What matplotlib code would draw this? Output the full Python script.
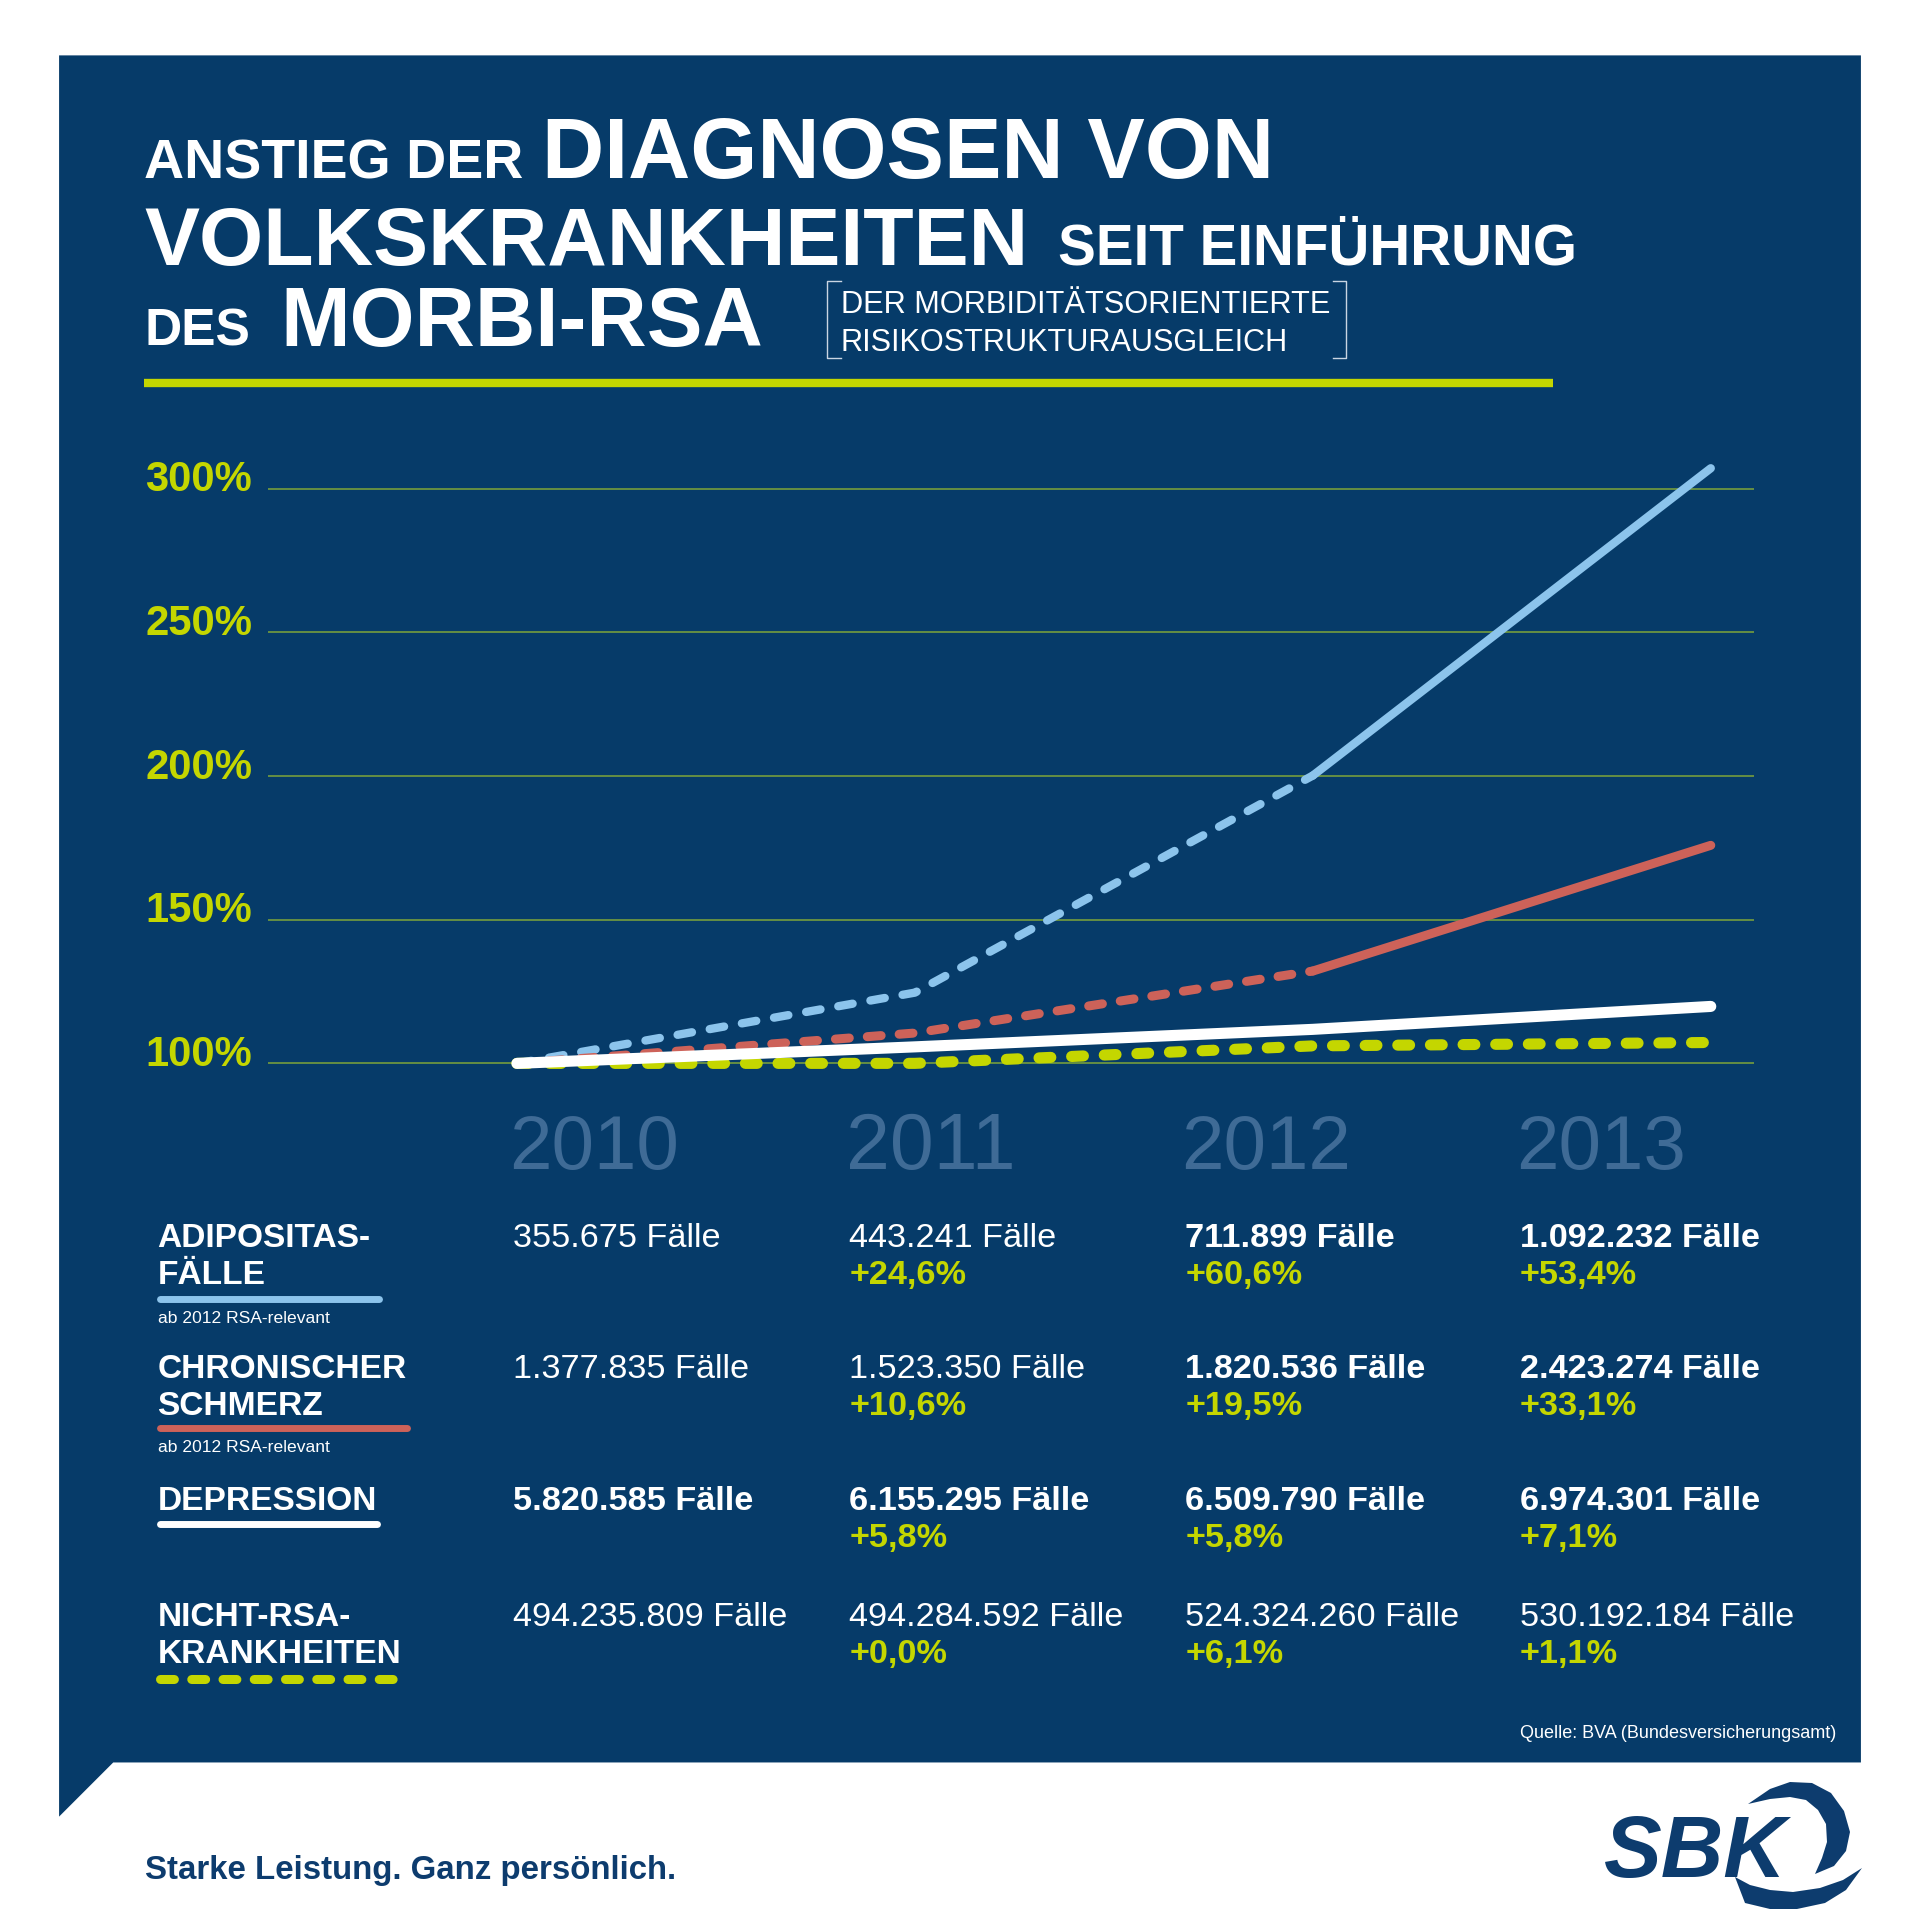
import matplotlib
matplotlib.use('Agg')
import matplotlib.pyplot as plt
from matplotlib.patches import Polygon
from matplotlib.lines import Line2D
import matplotlib.transforms as mtransforms
import numpy as np

plt.rcParams['font.family'] = ['Liberation Sans', 'DejaVu Sans']
plt.rcParams['lines.scale_dashes'] = False

# ---------------- data ----------------
years = [2010, 2011, 2012, 2013]
adipositas_faelle = [355675, 443241, 711899, 1092232]
schmerz_faelle = [1377835, 1523350, 1820536, 2423274]
depression_faelle = [5820585, 6155295, 6509790, 6974301]
nicht_rsa_faelle = [494235809, 494284592, 524324260, 530192184]

adipositas_pct = ["", "+24,6%", "+60,6%", "+53,4%"]
schmerz_pct = ["", "+10,6%", "+19,5%", "+33,1%"]
depression_pct = ["", "+5,8%", "+5,8%", "+7,1%"]
nicht_rsa_pct = ["", "+0,0%", "+6,1%", "+1,1%"]

row_labels = [["ADIPOSITAS-", "FÄLLE"], ["CHRONISCHER", "SCHMERZ"],
              ["DEPRESSION"], ["NICHT-RSA-", "KRANKHEITEN"]]
row_notes = ["ab 2012 RSA-relevant", "ab 2012 RSA-relevant", "", ""]
row_bold = [[False, False, True, True], [False, False, True, True],
            [True, True, True, True], [False, False, False, False]]

y_ticks = [100, 150, 200, 250, 300]
y_tick_labels = ["100%", "150%", "200%", "250%", "300%"]

# ---------------- style ----------------
NAVY = '#063b69'
GREEN = '#c4d600'
GRID = '#7fa53a'
BLUE = '#8cc4ec'
RED = '#cd6259'
WHITE = '#ffffff'
YEARC = '#3f6b96'
LOGO = '#0d3c6e'

K = 1920 / 1560
W, H = 1920, 1928
fig = plt.figure(figsize=(19.2, 19.28), dpi=100)
fig.patch.set_facecolor('white')
renderer = fig.canvas.get_renderer()


def fx(xd):
    return xd * K / W


def fy(yd):
    return 1 - yd * K / H


def ox(x):
    return x / W


def oy(y):
    return 1 - y / H


def cap_pt(cap_d):
    return cap_d * K / 0.716 * 0.72


def put(xd, yd, s, cap_d, width_d=None, ha='left', clamp=0.15, **kw):
    fs = cap_pt(cap_d)
    t = fig.text(fx(xd), fy(yd), s, fontsize=fs, ha=ha, va='baseline', **kw)
    if width_d:
        w = t.get_window_extent(renderer).width
        r = width_d * K / w
        r = min(max(r, 1 - clamp), 1 + clamp)
        t.set_fontsize(fs * r)
    return t


# panel
panel = Polygon([(fx(48), fy(45)), (fx(1512), fy(45)), (fx(1512), fy(1432)),
                 (fx(92), fy(1432)), (fx(48), fy(1476))], closed=True,
                transform=fig.transFigure, facecolor=NAVY, edgecolor='none', zorder=-1)
fig.add_artist(panel)

# title
put(117, 145, "ANSTIEG DER", 33, 308, color='white', weight='bold')
put(440, 145, "DIAGNOSEN VON", 49, 595, color='white', weight='bold')
put(117, 215, "VOLKSKRANKHEITEN", 49, 718, color='white', weight='bold')
put(860, 215, "SEIT EINFÜHRUNG", 33, 422, color='white', weight='bold')
put(117, 281, "DES", 33, 86, color='white', weight='bold')
put(228, 281, "MORBI-RSA", 49, 392, color='white', weight='bold')
put(683, 254, "DER MORBIDITÄTSORIENTIERTE", 18, 397, color='white')
put(683, 285, "RISIKOSTRUKTURAUSGLEICH", 18, 362, color='white')

bc = '#c9d5e3'
for xs, ys in [([683, 672, 672, 683], [228, 228, 291, 291]),
               ([1083, 1094, 1094, 1083], [228, 228, 291, 291])]:
    fig.add_artist(Line2D([fx(v) for v in xs], [fy(v) for v in ys], color=bc, lw=1.0,
                          transform=fig.transFigure))

fig.add_artist(Line2D([fx(117), fx(1262)], [fy(310.8)] * 2, color=GREEN, lw=6,
                      solid_capstyle='butt', transform=fig.transFigure))

# chart axes
ax = fig.add_axes([fx(218), fy(880), fx(1425) - fx(218), fy(370) - fy(880)])
ax.set_facecolor('none')
ax.axis('off')
per_year = (1390 - 420) / 3
ax.set_xlim(2010 - (420 - 218) / per_year, 2013 + (1425 - 1390) / per_year)
per_unit = (864 - 397) / 200
ax.set_ylim(100 - (880 - 864) / per_unit, 300 + (397 - 370) / per_unit)

for v in y_ticks:
    ax.axhline(v, color=GRID, lw=1.1, zorder=1)

trans = mtransforms.blended_transform_factory(fig.transFigure, ax.transData)
for v, lab in zip(y_ticks, y_tick_labels):
    t = ax.text(fx(205), v - 0.9, lab, transform=trans, ha='right', va='baseline',
                color=GREEN, weight='bold', fontsize=cap_pt(24))
    w = t.get_window_extent(renderer).width
    r = min(max(87 * K / w, 0.85), 1.15)
    t.set_fontsize(cap_pt(24) * r)


def idx(vals):
    return [v / vals[0] * 100 for v in vals]


a_i, s_i, d_i, n_i = idx(adipositas_faelle), idx(schmerz_faelle), idx(depression_faelle), idx(nicht_rsa_faelle)

ax.plot(years[:3], a_i[:3], color=BLUE, lw=6, dashes=(10.5, 13), dash_capstyle='round',
        zorder=3, clip_on=False)
ax.plot(years[2:], a_i[2:], color=BLUE, lw=6, solid_capstyle='round', zorder=3, clip_on=False)
ax.plot(years[:3], s_i[:3], color=RED, lw=6.5, dashes=(10, 13), dash_capstyle='round',
        zorder=4, clip_on=False)
ax.plot(years[2:], s_i[2:], color=RED, lw=6.5, solid_capstyle='round', zorder=4, clip_on=False)
ax.plot(years, n_i, color=GREEN, lw=8, dashes=(8.5, 15), dash_capstyle='round', zorder=5,
        clip_on=False)
ax.plot(years, d_i, color=WHITE, lw=8, solid_capstyle='round', zorder=6, clip_on=False)

# year labels
col_x = [417, 690, 963, 1235]
for x, y in zip(col_x, years):
    put(x - 3, 950, str(y), 50, 138, color=YEARC)

# table
row_base = [1013, 1120, 1227, 1321]
bar_y = [1055.5, 1160, 1238, 1364]
bar_x2 = [308, 331, 306, 327]
note_y = [1075, 1180, None, None]
bar_style = [dict(color=BLUE), dict(color=RED), dict(color=WHITE),
             dict(color=GREEN, dashes=(10, 12.5), dash_capstyle='round')]
counts = [adipositas_faelle, schmerz_faelle, depression_faelle, nicht_rsa_faelle]
pcts = [adipositas_pct, schmerz_pct, depression_pct, nicht_rsa_pct]

t0 = put(col_x[0], row_base[0], "355.675 Fälle", 19.5, 169, color='white')
val_fs = t0.get_fontsize()
t0.remove()

for r in range(4):
    for j, line in enumerate(row_labels[r]):
        put(128, row_base[r] + 30 * j, line, 19.5, None, color='white', weight='bold')
    style = dict(bar_style[r])
    lw = 6.5 if r == 3 else 5
    if 'dashes' not in style:
        style['solid_capstyle'] = 'round'
    fig.add_artist(Line2D([fx(130), fx(bar_x2[r])], [fy(bar_y[r])] * 2, lw=lw,
                          transform=fig.transFigure, **style))
    if row_notes[r]:
        put(128, note_y[r], row_notes[r], 9, 140, color='white')
    for c in range(4):
        s = f"{counts[r][c]:,}".replace(',', '.') + " Fälle"
        fig.text(fx(col_x[c]), fy(row_base[r]), s, fontsize=val_fs, color='white',
                 weight='bold' if row_bold[r][c] else 'normal', va='baseline', ha='left')
        if pcts[r][c]:
            fig.text(fx(col_x[c]), fy(row_base[r] + 30), pcts[r][c], fontsize=val_fs,
                     color=GREEN, weight='bold', va='baseline', ha='left')

put(1492, 1412, "Quelle: BVA (Bundesversicherungsamt)", 9.5, 257, ha='right', color='white')

# footer
put(118, 1527, "Starke Leistung. Ganz persönlich.", 20, 432, color=LOGO, weight='bold')

# logo
fig.text(ox(1604), oy(1877), "SBK", fontsize=62 / 0.716 * 0.72, color=LOGO, weight='bold',
         style='italic', va='baseline', ha='left')
cres = [(1748, 1804), (1770, 1789), (1790, 1782), (1812, 1783), (1831, 1793), (1844, 1811),
        (1850, 1832), (1846, 1851), (1834, 1866), (1815, 1874), (1822, 1858), (1827, 1842),
        (1826, 1824), (1818, 1810), (1806, 1800), (1790, 1797), (1770, 1799)]
swoosh = [(1862, 1868), (1843, 1880), (1820, 1888), (1793, 1892), (1770, 1890), (1750, 1885),
          (1735, 1877), (1745, 1903), (1770, 1909), (1797, 1909), (1825, 1903), (1846, 1890)]
for pts in (cres, swoosh):
    fig.add_artist(Polygon([(ox(x), oy(y)) for x, y in pts], closed=True, transform=fig.transFigure,
                           facecolor=LOGO, edgecolor='none'))

fig.savefig('out.png', dpi=100, facecolor='white')
